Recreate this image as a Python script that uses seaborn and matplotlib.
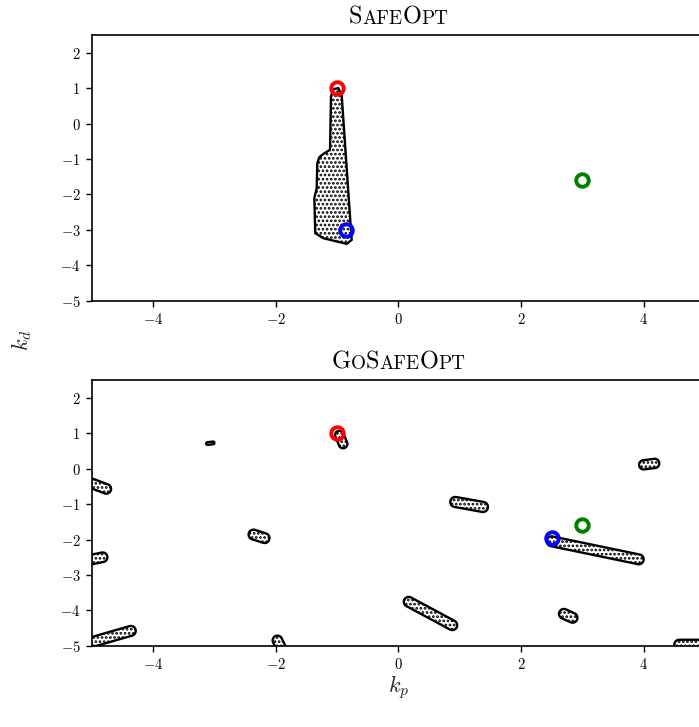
import numpy as np
import matplotlib
matplotlib.use("Agg")
import matplotlib.pyplot as plt
import matplotlib.ticker as ticker
from matplotlib.offsetbox import TextArea, HPacker, AnchoredOffsetbox
import seaborn as sns

# --- data ---
# SafeOpt: outline of the one connected safe region
safeopt_kp = [-1.097, -1.113, -1.222, -1.287, -1.320, -1.330, -1.369, -1.353, -1.222,
              -0.841, -0.760, -0.787, -0.923, -0.978, -1.059]
safeopt_kd = [0.766, -0.740, -0.853, -0.947, -1.116, -1.823, -2.105, -3.093, -3.235,
              -3.395, -3.282, -2.624, 0.814, 1.003, 0.975]

# GoSafeOpt: many small safe regions, each a stroke from (kp0, kd0) to (kp1, kd1)
gso_kp0 = [-3.11, -0.96, -5.02, -5.10, -2.36, -5.10, -1.97, 0.17, 0.93, 2.50, 2.70, 4.00, 4.58]
gso_kd0 = [0.71, 0.95, -0.40, -2.60, -1.86, -4.95, -4.85, -3.76, -0.94, -2.05, -4.10, 0.11, -4.97]
gso_kp1 = [-3.02, -0.90, -4.76, -4.82, -2.18, -4.36, -1.90, 0.88, 1.38, 3.92, 2.84, 4.18, 5.30]
gso_kd1 = [0.73, 0.70, -0.57, -2.50, -1.96, -4.58, -5.10, -4.42, -1.08, -2.56, -4.21, 0.15, -4.97]
gso_half_width = [0.022, 0.07, 0.078, 0.078, 0.08, 0.08, 0.078, 0.08, 0.082, 0.08, 0.08, 0.075, 0.08]

# markers: red = initial point, blue = best found, green = true optimum
safeopt_pts_kp = [-1.0, -0.85, 3.0]
safeopt_pts_kd = [1.0, -3.0, -1.6]
gosafeopt_pts_kp = [-1.0, 2.5, 3.0]
gosafeopt_pts_kd = [1.0, -1.95, -1.6]
point_colors = ["red", "blue", "green"]

x_ticks = [-4, -2, 0, 2, 4]
y_ticks = [-5, -4, -3, -2, -1, 0, 1, 2]

sns.set_theme(style="ticks")
plt.rcParams["mathtext.fontset"] = "cm"
plt.rcParams["font.family"] = ["cmr10", "DejaVu Sans"]
plt.rcParams["hatch.color"] = "black"
plt.rcParams["hatch.linewidth"] = 1.3

fig = plt.figure(figsize=(6.99, 7.27), dpi=100)
ax_top = fig.add_axes([0.131, 0.5864, 0.8776, 0.3652])
ax_bot = fig.add_axes([0.131, 0.1118, 0.8776, 0.3652])

# pixel aspect of the axes (kd units expressed in kp units)
aspect = 35.4 / 61.35

# SafeOpt region
ax_top.fill(safeopt_kp, safeopt_kd, facecolor="none", edgecolor="black",
            linewidth=1.7, hatch="....", zorder=2)

# GoSafeOpt regions: zero level of the distance to the strokes
gk = np.linspace(-5.5, 5.5, 1800)
gd = np.linspace(-5.5, 3.0, 1400)
KP, KD = np.meshgrid(gk, gd)
field = np.full(KP.shape, np.inf)
for a0, b0, a1, b1, hw in zip(gso_kp0, gso_kd0, gso_kp1, gso_kd1, gso_half_width):
    ux, uy = a1 - a0, (b1 - b0) * aspect
    px, py = KP - a0, (KD - b0) * aspect
    t = np.clip((px * ux + py * uy) / (ux * ux + uy * uy), 0, 1)
    dist = np.hypot(px - t * ux, py - t * uy) - hw
    field = np.minimum(field, dist)

cs = ax_bot.contour(KP, KD, field, levels=[0], colors="black", linewidths=0)
for seg in cs.allsegs[0]:
    ax_bot.fill(seg[:, 0], seg[:, 1], facecolor="none", edgecolor="black",
                linewidth=1.7, hatch="....", zorder=2)

for ax, pkp, pkd in [(ax_top, safeopt_pts_kp, safeopt_pts_kd),
                     (ax_bot, gosafeopt_pts_kp, gosafeopt_pts_kd)]:
    for xk, yk, c in zip(pkp, pkd, point_colors):
        ax.plot(xk, yk, marker="o", markersize=9, markerfacecolor="none",
                markeredgecolor=c, markeredgewidth=2.8, linestyle="none", zorder=4)
    ax.set_xlim(-5, 5)
    ax.set_ylim(-5, 2.5)
    ax.set_xticks(x_ticks)
    ax.set_yticks(y_ticks)
    ax.xaxis.set_major_formatter(ticker.FuncFormatter(lambda v, p: rf"${v:g}$"))
    ax.yaxis.set_major_formatter(ticker.FuncFormatter(lambda v, p: rf"${v:g}$"))
    ax.tick_params(labelsize=10.5, length=4.5, width=1.0, color="black", labelcolor="black")
    for s in ax.spines.values():
        s.set_linewidth(1.2)
        s.set_color("black")
    ax.grid(False)


def small_caps_title(ax, parts):
    boxes = []
    for txt, big in parts:
        boxes.append(TextArea(txt, textprops=dict(fontsize=17.5 if big else 13.8,
                                                  family="cmr10", color="black")))
    pack = HPacker(children=boxes, align="baseline", pad=0, sep=0)
    anch = AnchoredOffsetbox(loc="lower center", child=pack, pad=0, borderpad=0,
                             frameon=False, bbox_to_anchor=(0.5, 1.025),
                             bbox_transform=ax.transAxes)
    ax.add_artist(anch)


small_caps_title(ax_top, [("S", True), ("AFE", False), ("O", True), ("PT", False)])
small_caps_title(ax_bot, [("G", True), ("O", False), ("S", True), ("AFE", False),
                          ("O", True), ("PT", False)])

fig.text(398.3 / 699, 1 - 687 / 727, r"$k_p$", ha="center", va="center", fontsize=16)
fig.text(22 / 699, 1 - 340 / 727, r"$k_d$", ha="center", va="center", fontsize=16, rotation=90)

fig.savefig("out.png", dpi=100)
